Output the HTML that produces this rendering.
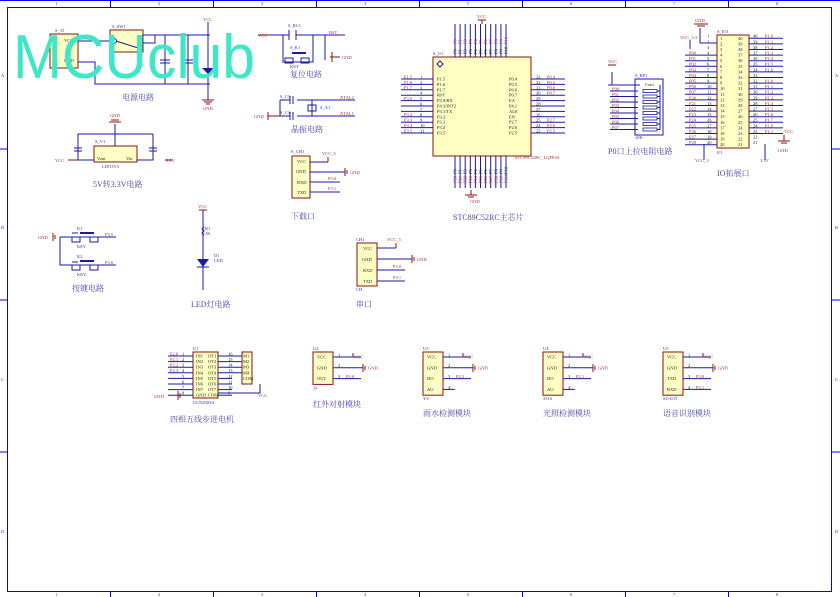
<!DOCTYPE html>
<html><head><meta charset="utf-8">
<style>
html,body{margin:0;padding:0;background:#fff;}
svg{display:block;font-family:"Liberation Serif","Noto Serif CJK SC",serif;}
.w{stroke:#1a1aa8;stroke-width:1;fill:none}
.r{stroke:#8b1010;stroke-width:1;fill:none}
.b{fill:#ffffc4;stroke:#8b1010;stroke-width:1}
.f{stroke:#0000ff;stroke-width:1;fill:none}
.t{fill:#4848a8;font-size:8px}
.n{fill:#a03030;font-size:4.5px}
.p{fill:#222;font-size:4.5px}
.s{fill:#3030a0;font-size:4.5px}
</style></head><body>
<svg id="g" width="840" height="597" viewBox="0 0 840 597" xmlns="http://www.w3.org/2000/svg">
<!-- frame -->
<rect class="f" x="7.5" y="7.5" width="824" height="584"/>
<line class="f" x1="0" y1="0.5" x2="840" y2="0.5"/>
<g id="frameTicks"></g>

<!-- Power circuit -->
<rect class="b" x="50" y="34" width="28" height="34"/>
<text class="s" x="55" y="32">S_T1</text>
<text class="p" x="64" y="42">VCC</text><text class="p" x="64" y="62">GND</text>
<rect class="b" x="110" y="30" width="33" height="22"/>
<text class="s" x="112" y="28">S_SW1</text>
<circle cx="114" cy="41" r="2.5" fill="none" stroke="#1a1aa8"/>
<line class="w" x1="116" y1="41" x2="138" y2="48"/>
<path class="w" d="M78 41H110 M143 35H210 M143 43H155V35 M78 62H95V84H210 M165 35V84 M188 35V84 M208 22V100"/>
<path class="w" d="M160 60H170 M160 63H170 M183 60H193 M183 63H193"/>
<path d="M202 68h12l-6 6z" fill="#1a1aa8"/>
<text class="n" x="203" y="21">VCC</text>
<path class="r" d="M202 100h12 M204 102h8 M206 104h4"/>
<text class="n" x="203" y="110">GND</text>
<text class="t" x="122" y="100">电源电路</text>

<!-- Reset -->
<path class="w" d="M270 35H289 M296 35H345 M283 35V62H313V35 M325 35V60"/>
<path class="w" d="M289 30V40 M296 30V40"/>
<rect x="292" y="52" width="14" height="2" fill="#1a1aa8"/>
<path class="w" d="M285 58h8v5h-8z M301 58h8v5h-8z"/>
<path class="r" d="M258 35H270 M332 52V62 M330 57H340"/>
<text class="n" x="258" y="37">VCC</text><text class="n" x="329" y="34">RST</text><text class="n" x="342" y="59">GND</text>
<text class="s" x="288" y="27">S_RC1</text><text class="s" x="290" y="49">S_K1</text><text class="s" x="290" y="68">KEY</text>
<text class="t" x="290" y="77">复位电路</text>

<!-- Crystal -->
<path class="w" d="M280 100H290 M297 100H355 M280 116H290 M297 116H355 M280 100V116 M312 100V116"/>
<path class="w" d="M290 96V104 M293 96V104 M290 112V120 M293 112V120"/>
<rect x="308" y="105" width="8" height="6" fill="none" stroke="#1a1aa8"/>
<path class="r" d="M268 116H280 M268 112V120"/>
<text class="n" x="254" y="118">GND</text><text class="n" x="340" y="99">XTAL2</text><text class="n" x="340" y="115">XTAL1</text>
<text class="s" x="280" y="98">S_C3</text><text class="s" x="280" y="114">S_C4</text><text class="s" x="320" y="109">S_X1</text>
<text class="t" x="291" y="132">晶振电路</text>

<!-- LDO -->
<rect class="b" x="94" y="146" width="43" height="16"/>
<path class="w" d="M115 124V146 M78 134H153 M78 134V160H94 M153 134V160H137"/>
<path class="w" d="M74 148h8 M74 151h8 M149 148h8 M149 151h8"/>
<path class="r" d="M109 122h12 M111 120h8 M68 160H78 M165 160H172"/>
<text class="n" x="110" y="117">GND</text><text class="n" x="55" y="162">VCC</text><text class="n" x="166" y="162">3.3V</text>
<text class="p" x="97" y="160">Vout</text><text class="p" x="126" y="160">Vin</text>
<text class="s" x="95" y="143">S_V1</text><text class="s" x="102" y="168">LDO3V3</text>
<text class="t" x="93" y="187">5V转3.3V电路</text>

<!-- Download port -->
<rect class="b" x="292" y="156" width="18" height="42"/>
<path class="w" d="M310 162H328 M310 172H345 M310 182H340 M310 192H340"/>
<path class="r" d="M328 162V157 M345 168V176 M347 170V174"/>
<text class="p" x="297" y="163">VCC</text><text class="p" x="296" y="173">GND</text><text class="p" x="297" y="184">RXD</text><text class="p" x="297" y="194">TXD</text>
<text class="s" x="291" y="153">S_CH1</text><text class="n" x="322" y="155">VCC_5</text><text class="n" x="350" y="174">GND</text><text class="n" x="328" y="180">P3.0</text><text class="n" x="328" y="190">P3.1</text>
<text class="t" x="291" y="219">下载口</text>

<!-- Serial -->
<rect class="b" x="357" y="243" width="20" height="43"/>
<path class="w" d="M377 248H396 M377 259H412 M377 270H405 M377 281H405"/>
<path class="r" d="M396 248V243 M412 255V263 M414 257V261"/>
<text class="p" x="363" y="250">VCC</text><text class="p" x="362" y="261">GND</text><text class="p" x="363" y="272">RXD</text><text class="p" x="363" y="283">TXD</text>
<text class="s" x="356" y="241">CH1</text><text class="s" x="356" y="291">CH</text><text class="n" x="387" y="241">VCC_5</text><text class="n" x="417" y="261">GND</text><text class="n" x="393" y="268">P3.0</text><text class="n" x="393" y="279">P3.1</text>
<text class="t" x="356" y="307">串口</text>

<!-- Keys -->
<path class="w" d="M60 237H116 M60 237V265H116 M72 233H78 M72 262H78"/>
<path class="w" d="M72 237h8v5h-8z M90 237h8v5h-8z M72 265h8v5h-8z M90 265h8v5h-8z"/>
<rect x="80" y="232" width="14" height="2" fill="#1a1aa8"/><rect x="80" y="260" width="14" height="2" fill="#1a1aa8"/>
<path class="r" d="M53 233V241 M55 235V239"/>
<text class="n" x="38" y="239">GND</text><text class="n" x="105" y="236">P3.5</text><text class="n" x="105" y="264">P3.6</text>
<text class="s" x="77" y="230">K1</text><text class="s" x="77" y="258">K2</text><text class="s" x="77" y="248">KEY</text><text class="s" x="77" y="276">KEY</text>
<text class="t" x="72" y="291">按键电路</text>

<!-- LED -->
<path class="w" d="M203 210V290 M204 227l-2 2 2 2-2 2 2 2"/>
<path d="M197 259h12l-6 8z" fill="#1a1aa8"/><line class="w" x1="197" y1="267" x2="209" y2="267"/>
<path class="r" d="M199 210h8"/>
<text class="n" x="198" y="208">VCC</text><text class="s" x="205" y="230">R1</text><text class="s" x="205" y="235">1K</text><text class="s" x="214" y="257">D1</text><text class="s" x="214" y="262">LED</text>
<text class="t" x="191" y="307">LED灯电路</text>

<!-- MCU -->
<rect class="b" x="433" y="57" width="98" height="99"/>
<text class="s" x="433" y="55">S_U1</text>
<path d="M437 64l3-3 3 3-3 3z" fill="none" stroke="#1a1aa8"/>
<text class="n" x="515" y="159">STC89C52RC_LQFP44</text>
<path class="r" d="M482 20V24 M478 20h8 M471 190V195 M465 195h12 M468 197h6"/>
<text class="n" x="477" y="18">VCC</text><text class="n" x="470" y="203">GND</text>
<text class="t" x="453" y="220">STC89C52RC主芯片</text>
<g id="mcu"></g>

<!-- RP -->
<rect x="635" y="79" width="28" height="56" fill="none" stroke="#1a1aa8"/>
<path class="w" d="M608 85H612V72 M612 85H640"/>
<path class="r" d="M608 65h8"/>
<text class="n" x="608" y="63">VCC</text><text class="s" x="635" y="77">S_RP1</text><text class="s" x="635" y="139">10K</text><text class="p" x="645" y="86">Com</text>
<g id="rp"></g>
<text class="t" x="608" y="154">P0口上拉电阻电路</text>

<!-- IO header -->
<rect class="b" x="717" y="35" width="32" height="113"/>
<text class="s" x="717" y="33">S_IO1</text><text class="s" x="717" y="154">IO</text>
<path class="w" d="M700 28V43H717 M690 40V49 M704 144V160 M765 144V160"/>
<path class="r" d="M694 24h14 M697 26h8 M784 135V141 M778 141h12 M781 143h6"/>
<text class="n" x="695" y="22">GND</text><text class="n" x="680" y="39">VCC_3.3</text><text class="n" x="695" y="162">VCC_5</text><text class="n" x="760" y="162">3.3V</text><text class="n" x="784" y="133">VCC</text><text class="n" x="778" y="152">GND</text>
<g id="io"></g>
<text class="t" x="717" y="176">IO拓展口</text>

<!-- ULN2003 -->
<rect class="b" x="193" y="352" width="25" height="46"/>
<rect class="b" x="242" y="352" width="10" height="32"/>
<g id="uln"></g>
<path class="w" d="M218 393H260V384"/>
<path class="r" d="M178 391V400 M180 393V398"/>
<text class="n" x="154" y="398">GND</text><text class="n" x="258" y="397">VCC</text>
<text class="s" x="193" y="350">U1</text><text class="s" x="193" y="404">ULN2003A</text>
<text class="t" x="170" y="422">四相五线步进电机</text>

<!-- Modules -->
<g id="mods"></g>
<text class="t" x="313" y="407">红外对射模块</text>
<text class="t" x="423" y="416">雨水检测模块</text>
<text class="t" x="543" y="416">光照检测模块</text>
<text class="t" x="663" y="416">语音识别模块</text>

<!-- Watermark -->
<text x="13" y="78" font-family="Liberation Sans, sans-serif" font-size="62" fill="#3fe6c8" textLength="242" lengthAdjust="spacingAndGlyphs">MCUclub</text>
</svg>
<script>
var NS="http://www.w3.org/2000/svg";
function el(p,t,a,txt){var e=document.createElementNS(NS,t);for(var k in a)e.setAttribute(k,a[k]);if(txt!==undefined)e.textContent=txt;document.getElementById(p).appendChild(e);return e;}
function L(p,x1,y1,x2,y2,c){el(p,"line",{x1:x1,y1:y1,x2:x2,y2:y2,class:c||"w"});}
function T(p,x,y,s,c,rot){var a={x:x,y:y,class:c||"p"};if(rot)a.transform="rotate(-90 "+x+" "+y+")";el(p,"text",a,s);}
// frame ticks
var cols=["1","2","3","4","5","6","7","8"];
for(var i=1;i<8;i++){var x=7.5+103*i;L("frameTicks",x,0,x,7.5,"f");L("frameTicks",x,591.5,x,597,"f");}
for(var i=0;i<8;i++){T("frameTicks",55+103*i,5,cols[i],"s");T("frameTicks",55+103*i,596,cols[i],"s");}
[149,300,452].forEach(function(y){L("frameTicks",0,y,7.5,y,"f");L("frameTicks",831.5,y,840,y,"f");});
["A","B","C","D"].forEach(function(r,i){T("frameTicks",1,77+152*i,r,"s");T("frameTicks",835,77+152*i,r,"s");});
// MCU pins
var lp=["P1.5","P1.6","P1.7","RST","P3.0/RX","P4.3/INT2","P3.1/TX","P3.2","P3.3","P3.4","P3.5"];
var rp=["P0.4","P0.5","P0.6","P0.7","EA","P4.1","ALE","EN","P2.7","P2.6","P2.5"];
for(var i=0;i<11;i++){var y=79+5.4*i;
 L("mcu",401,y,433,y);T("mcu",437,y+1.5,lp[i]);T("mcu",420,y-0.5,String(i+1));
 if(i!=3&&i!=5&&i!=6)T("mcu",404,y-0.6,lp[i].slice(0,4),"n");
 L("mcu",531,y,565,y);T("mcu",509,y+1.5,rp[i]);T("mcu",536,y-0.5,String(33-i));
 if(i<4||i>7)T("mcu",547,y-0.6,rp[i],"n");
 var x=455+5.1*i;L("mcu",x,24,x,57);L("mcu",x,156,x,188);
 T("mcu",x+1.5,54,"P"+(i),"p",1);T("mcu",x+1.5,183,"P2"+i,"n",1);T("mcu",x+1.5,44,"P"+i,"n",1);T("mcu",x+1.5,174,"P"+i,"p",1);}
// RP
for(var i=0;i<8;i++){var y=91+5.5*i;L("rp",610,y,638,y);el("rp","rect",{x:643,y:y-1.5,width:14,height:3,fill:"none",stroke:"#1a1aa8","stroke-width":"0.8"});L("rp",657,y,660,y);T("rp",612,y-0.6,"P0"+i,"n");}
L("rp",660,85,660,130);
// IO
for(var i=0;i<20;i++){var y=38.3+5.6*i;
 T("io",720,y+1.5,String(i+1));T("io",738,y+1.5,String(40-i));
 if(i>=3){L("io",685,y,717,y);T("io",689,y-0.6,"P"+(i<11?"0"+(i-3):"2"+(i-11)),"n");}
 T("io",707,y-0.6,String(i+1));T("io",753,y-0.6,String(40-i));
 if(i<18){L("io",749,y,783,y);if(i!=7)T("io",765,y-0.6,"P1."+(i%8),"n");}}
// ULN
var inl=["IN1","IN2","IN3","IN4","IN5","IN6","IN7","GND"],outl=["OT1","OT2","OT3","OT4","OT5","OT6","OT7","COM"];
for(var i=0;i<8;i++){var y=356+5.6*i;
 L("uln",168,y,193,y);T("uln",196,y+1.5,inl[i]);T("uln",208,y+1.5,outl[i]);T("uln",182,y-0.6,String(i+1));
 L("uln",218,y,242-(i>3?10:0),y);T("uln",228,y-0.6,String(16-i));
 if(i<4){T("uln",170,y-0.6,"P2."+i,"n");T("uln",243,y+1.5,"M"+(i+1));}}
T("uln",243,380,"COM");
// Modules
var mods=[[313,["VCC","GND","OUT"],["VCC","GND","P2.0"],"U2","J3"],[423,["VCC","GND","DO","AO"],["VCC","GND","P2.2",""],"U3","YS"],[543,["VCC","GND","DO","AO"],["VCC","GND","P2.1",""],"U4","3516"],[663,["VCC","GND","TXD","RXD"],["VCC","GND","P3.0","P3.1"],"U5","SU-03T"]];
mods.forEach(function(m){var x=m[0],n=m[1].length,h=n*10.8;
 el("mods","rect",{x:x,y:352,width:20,height:h,class:"b"});
 T("mods",x,350,m[3],"s");T("mods",x,352+h+5,m[4],"s");
 for(var i=0;i<n;i++){var y=357+10.8*i;T("mods",x+4,y+1.5,m[1][i]);T("mods",x+25,y-0.6,String(i+1));
  var len=(i==3&&m[2][i]=="")?12:(i==1?30:28);L("mods",x+20,y,x+20+len,y);
  if(m[2][i])T("mods",x+(i==1?55:i==0?41:33),y+(i<2?1.5:-0.6),m[2][i],"n");}
 L("mods",x+40,353,x+40,357,"r");L("mods",x+50,364,x+50,372,"r");L("mods",x+52,366,x+52,370,"r");});
</script>
</body></html>
